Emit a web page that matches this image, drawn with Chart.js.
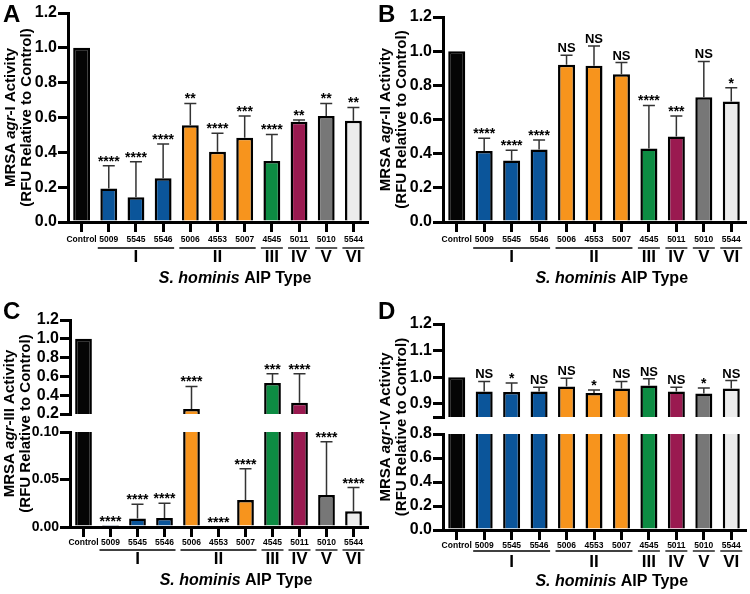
<!DOCTYPE html>
<html>
<head>
<meta charset="utf-8">
<script src="https://cdn.jsdelivr.net/npm/chart.js@4.4.1/dist/chart.umd.min.js"></script>
<style>
  html, body { margin: 0; padding: 0; background: #fff; }
  #fig { position: relative; width: 750px; height: 594px; }
  #fig canvas { position: absolute; }
</style>
</head>
<body>
<div id="fig">
  <canvas id="chartA" width="375" height="297" style="left:0;top:0"></canvas>
  <canvas id="chartB" width="375" height="297" style="left:375px;top:0"></canvas>
  <canvas id="chartC" width="375" height="297" style="left:0;top:297px"></canvas>
  <canvas id="chartCTop" width="375" height="297" style="left:0;top:297px"></canvas>
  <canvas id="chartD" width="375" height="297" style="left:375px;top:297px"></canvas>
  <canvas id="chartDTop" width="375" height="297" style="left:375px;top:297px"></canvas>
</div>
<script>
const FONT = '"Liberation Sans", Arial, Helvetica, sans-serif';

// categories
const strains = ['Control', '5009', '5545', '5546', '5006', '4553', '5007', '4545', '5011', '5010', '5544'];
const aipTypes = ['I', 'II', 'III', 'IV', 'V', 'VI'];
const aipFirst = [1, 4, 7, 8, 9, 10];
const aipLast = [3, 6, 7, 8, 9, 10];
const barColors = ['#050505', '#0b559a', '#0b559a', '#0b559a', '#f7941d', '#f7941d', '#f7941d',
  '#0d8c43', '#9a1a50', '#777777', '#ececec'];

// A: agr-I
const agr1Mean = [1.0, 0.193, 0.142, 0.251, 0.555, 0.404, 0.484, 0.350, 0.576, 0.608, 0.582];
const agr1Err = [0, 0.130, 0.204, 0.197, 0.126, 0.105, 0.124, 0.153, 0.009, 0.073, 0.076];
const agr1Sig = ['', '****', '****', '****', '**', '****', '***', '****', '**', '**', '**'];

// B: agr-II
const agr2Mean = [1.0, 0.415, 0.360, 0.425, 0.920, 0.915, 0.865, 0.430, 0.500, 0.730, 0.705];
const agr2Err = [0, 0.075, 0.060, 0.055, 0.056, 0.115, 0.068, 0.252, 0.120, 0.210, 0.081];
const agr2Sig = ['', '****', '****', '****', 'NS', 'NS', 'NS', '****', '***', 'NS', '*'];

// C: agr-III
const agr3Mean = [1.0, 0.001, 0.0089, 0.0096, 0.254, 0, 0.0284, 0.530, 0.320, 0.0337, 0.0167];
const agr3Err = [0, 0, 0.0151, 0.0154, 0.239, 0, 0.0329, 0.098, 0.308, 0.056, 0.0248];
const agr3Sig = ['', '****', '****', '****', '****', '****', '****', '***', '****', '****', '****'];

// D: agr-IV
const agr4Mean = [1.0, 0.946, 0.944, 0.946, 0.965, 0.940, 0.957, 0.969, 0.946, 0.938, 0.957];
const agr4Err = [0, 0.038, 0.034, 0.016, 0.031, 0.012, 0.027, 0.025, 0.016, 0.021, 0.030];
const agr4Sig = ['', 'NS', '*', 'NS', 'NS', '*', 'NS', 'NS', 'NS', '*', 'NS'];

// tick labels
const ticksFull = [0, 0.2, 0.4, 0.6, 0.8, 1.0, 1.2];
const ticksCLow = [0, 0.05, 0.10];
const ticksCHigh = [0.2, 0.4, 0.6, 0.8, 1.0, 1.2];
const ticksDLow = [0, 0.2, 0.4, 0.6, 0.8];
const ticksDHigh = [0.85, 0.9, 1.0, 1.1, 1.2];

const titleLine2 = '(RFU Relative to Control)';
const xTitle = [['S. hominis', true], [' AIP Type', false]];

function richText(ctx, parts, cx, cy, size) {
	let total = 0;
	parts.forEach(p => {
		ctx.font = (p[1] ? 'italic ' : '') + 'bold ' + size + 'px ' + FONT;
		total += ctx.measureText(p[0]).width;
	});
	let x = cx - total / 2;
	ctx.textAlign = 'left';
	ctx.textBaseline = 'middle';
	parts.forEach(p => {
		ctx.font = (p[1] ? 'italic ' : '') + 'bold ' + size + 'px ' + FONT;
		ctx.fillText(p[0], x, cy);
		x += ctx.measureText(p[0]).width;
	});
}

// error bars + significance marks
function errorAndStars(mean, err, sig) {
	return {
		id: 'errStars',
		afterDatasetsDraw(chart) {
			const ctx = chart.ctx;
			const y = chart.scales.y;
			const area = chart.chartArea;
			const bars = chart.getDatasetMeta(0).data;

			ctx.save();
			ctx.beginPath();
			ctx.rect(area.left, area.top - 1, area.right - area.left, area.bottom - area.top + 1);
			ctx.clip();
			ctx.strokeStyle = '#333';
			ctx.lineWidth = 1.5;
			bars.forEach((bar, i) => {
				if ( ! err[i]) {
					return;
				}
				const y0 = y.getPixelForValue(mean[i]);
				const y1 = y.getPixelForValue(mean[i] + err[i]);
				ctx.beginPath();
				ctx.moveTo(bar.x, y0);
				ctx.lineTo(bar.x, y1);
				ctx.moveTo(bar.x - 6, y1);
				ctx.lineTo(bar.x + 6, y1);
				ctx.stroke();
			});
			ctx.restore();

			ctx.save();
			ctx.fillStyle = '#000';
			ctx.textAlign = 'center';
			ctx.textBaseline = 'alphabetic';
			bars.forEach((bar, i) => {
				if ( ! sig[i]) {
					return;
				}
				const v = mean[i] + err[i];
				if (v < y.min - 1e-9 || v > y.max) {
					return;
				}
				const py = y.getPixelForValue(v);
				const ns = sig[i] === 'NS';
				ctx.font = 'bold ' + (ns ? 13 : 14) + 'px ' + FONT;
				ctx.fillText(sig[i], bar.x, py - (ns ? 3 : 0));
			});
			ctx.restore();
		}
	};
}

// panel letter, AIP groups, axis titles
function panelDecor(o) {
	return {
		id: 'decor',
		afterDraw(chart) {
			const ctx = chart.ctx;
			const x = chart.scales.x;
			const area = chart.chartArea;
			ctx.save();
			ctx.fillStyle = '#000';
			ctx.strokeStyle = '#000';

			ctx.font = 'bold 24px ' + FONT;
			ctx.textAlign = 'left';
			ctx.textBaseline = 'top';
			ctx.fillText(o.letter, 3, 3);

			const lineY = area.bottom + o.groupOff[0];
			let gStart = null, gEnd = null;
			aipTypes.forEach((t, g) => {
				const x0 = x.getPixelForValue(aipFirst[g]) - 11;
				const x1 = x.getPixelForValue(aipLast[g]) + 11;
				if (gStart === null) {
					gStart = x0;
				}
				gEnd = x1;
				ctx.lineWidth = 1.3;
				ctx.beginPath();
				ctx.moveTo(x0, lineY);
				ctx.lineTo(x1, lineY);
				ctx.stroke();
				ctx.font = 'bold 17px ' + FONT;
				ctx.textAlign = 'center';
				ctx.textBaseline = 'middle';
				ctx.fillText(t, (x0 + x1) / 2, area.bottom + o.groupOff[1]);
			});

			richText(ctx, xTitle, (gStart + gEnd) / 2 + 4, area.bottom + o.groupOff[2], 16);

			ctx.translate(o.titleX || 11, o.titleMid);
			ctx.rotate(-Math.PI / 2);
			richText(ctx, [['MRSA ', false], ['agr', true], [o.agr + ' Activity', false]], 0, 0, 15);
			richText(ctx, [[titleLine2, false]], 0, 16, 15);
			ctx.restore();
		}
	};
}

function barPanel(id, o) {
	const plugins = [errorAndStars(o.mean, o.err, o.sig)];
	if (o.decor) {
		plugins.push(panelDecor(o.decor));
	}
	return new Chart(
		document.getElementById(id),
		{
			type: 'bar',
			data: {
				labels: strains,
				datasets: [{
					data: o.mean,
					backgroundColor: barColors,
					borderColor: '#000',
					borderWidth: 2.5,
					barPercentage: 0.62,
					categoryPercentage: 1,
					clip: 0
				}]
			},
			options: {
				responsive: false,
				animation: false,
				events: [],
				layout: { padding: { top: o.top, right: o.right, bottom: o.showX ? 0 : 297 - o.bottom, left: 0 } },
				plugins: { legend: { display: false }, tooltip: { enabled: false } },
				scales: {
					x: {
						display: o.showX,
						offset: true,
						grid: { offset: false, drawOnChartArea: false, color: '#000', lineWidth: 3, tickLength: 10 },
						border: { color: '#000', width: 3 },
						ticks: {
							color: '#000',
							font: { family: FONT, size: 8.5, weight: 'bold' },
							padding: o.labelPad || 3,
							autoSkip: false,
							maxRotation: 0,
							minRotation: 0
						},
						afterFit: s => {
							if (o.showX) {
								s.height = 297 - o.bottom;
							}
						}
					},
					y: {
						min: o.min,
						max: o.max,
						afterBuildTicks: s => { s.ticks = o.ticks.map(v => ({ value: v })); },
						grid: { drawOnChartArea: false, color: '#000', lineWidth: 3, tickLength: 10 },
						border: { color: '#000', width: 3 },
						ticks: {
							color: '#000',
							font: { family: FONT, size: o.tickSize || 16, weight: 'bold' },
							padding: 1,
							autoSkip: false,
							callback: v => (o.blank && o.blank.indexOf(v) >= 0) ? '' : v.toFixed(o.dec)
						},
						afterFit: s => { s.width = o.axisX; }
					}
				}
			},
			plugins: plugins
		}
	);
}

barPanel('chartA', {
	mean: agr1Mean, err: agr1Err, sig: agr1Sig, min: 0, max: 1.2, ticks: ticksFull, dec: 1,
	top: 13, bottom: 222, right: 8, axisX: 68, showX: true,
	decor: { letter: 'A', agr: '-I', groupOff: [26, 35, 57], titleMid: (13 + 222) / 2 }
});

barPanel('chartB', {
	mean: agr2Mean, err: agr2Err, sig: agr2Sig, min: 0, max: 1.2, ticks: ticksFull, dec: 1,
	top: 17, bottom: 222, right: 5, axisX: 68, showX: true,
	decor: { letter: 'B', agr: '-II', groupOff: [26, 35, 57], titleMid: (17 + 222) / 2 }
});

barPanel('chartC', {
	mean: agr3Mean, err: agr3Err, sig: agr3Sig, min: 0, max: 0.10, ticks: ticksCLow, dec: 2, tickSize: 14,
	top: 135, bottom: 230, right: 8, axisX: 70, showX: true, labelPad: 1,
	decor: { letter: 'C', agr: '-III', groupOff: [23, 32, 54], titleMid: (23 + 230) / 2, titleX: 10 }
});
barPanel('chartCTop', {
	mean: agr3Mean, err: agr3Err, sig: agr3Sig, min: 0.2, max: 1.2, ticks: ticksCHigh, dec: 1,
	top: 23, bottom: 117, right: 8, axisX: 70, showX: false
});

barPanel('chartD', {
	mean: agr4Mean, err: agr4Err, sig: agr4Sig, min: 0, max: 0.8, ticks: ticksDLow, dec: 1,
	top: 137, bottom: 233, right: 5, axisX: 68, showX: true, labelPad: 1,
	decor: { letter: 'D', agr: '-IV', groupOff: [21, 32, 52], titleMid: (27 + 233) / 2 }
});
barPanel('chartDTop', {
	mean: agr4Mean, err: agr4Err, sig: agr4Sig, min: 0.85, max: 1.2, ticks: ticksDHigh, dec: 1, blank: [0.85],
	top: 27, bottom: 120, right: 5, axisX: 68, showX: false
});
</script>
</body>
</html>
